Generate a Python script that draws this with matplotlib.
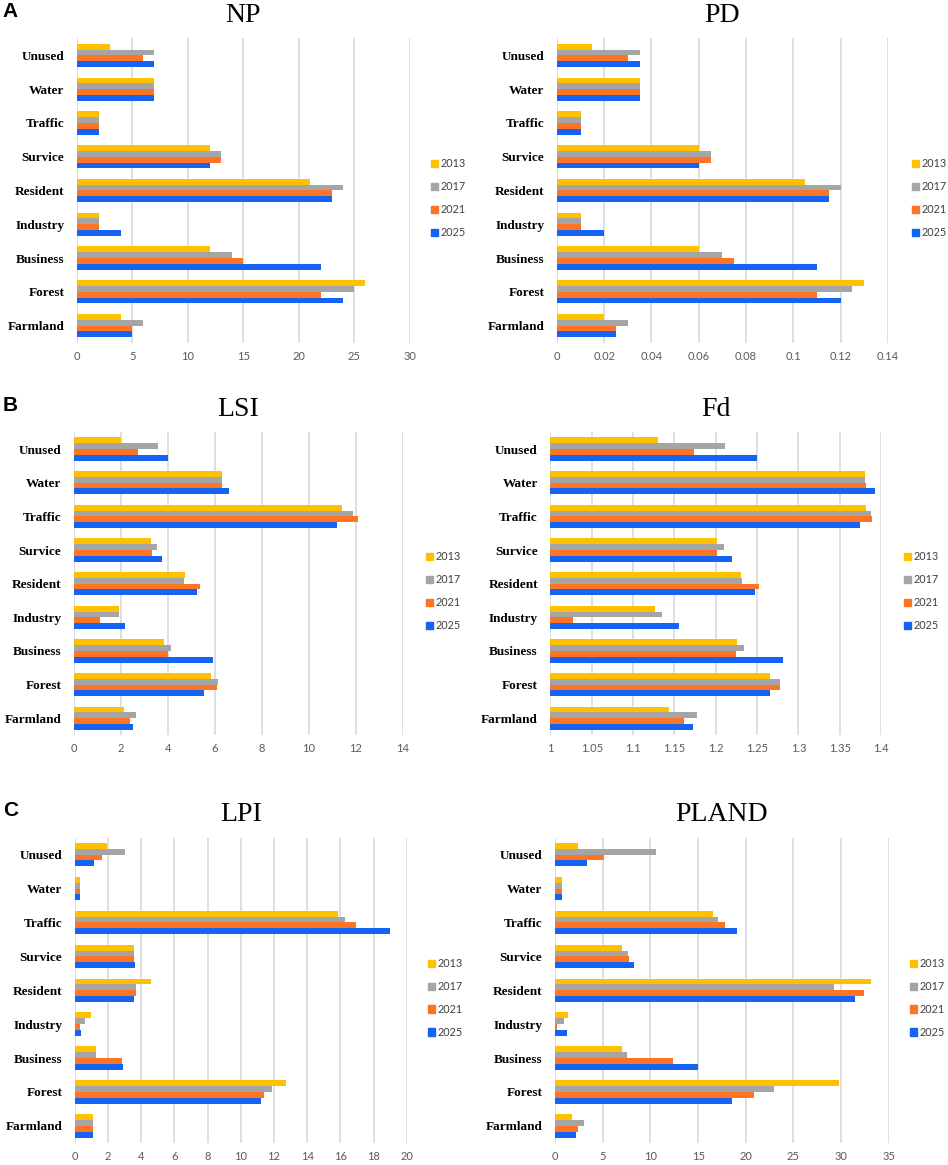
import matplotlib
matplotlib.use("Agg")
import matplotlib.pyplot as plt
from matplotlib.patches import Patch
import numpy as np

categories = ["Farmland", "Forest", "Business", "Industry", "Resident",
              "Survice", "Traffic", "Water", "Unused"]
years = ["2013", "2017", "2021", "2025"]
colors = ["#FFC000", "#A5A5A5", "#FF7424", "#1463F3"]

# values per year, listed Farmland -> Unused
np_2013 = [4, 26, 12, 2, 21, 12, 2, 7, 3]
np_2017 = [6, 25, 14, 2, 24, 13, 2, 7, 7]
np_2021 = [5, 22, 15, 2, 23, 13, 2, 7, 6]
np_2025 = [5, 24, 22, 4, 23, 12, 2, 7, 7]

pd_2013 = [0.02, 0.13, 0.06, 0.01, 0.105, 0.06, 0.01, 0.035, 0.015]
pd_2017 = [0.03, 0.125, 0.07, 0.01, 0.12, 0.065, 0.01, 0.035, 0.035]
pd_2021 = [0.025, 0.11, 0.075, 0.01, 0.115, 0.065, 0.01, 0.035, 0.03]
pd_2025 = [0.025, 0.12, 0.11, 0.02, 0.115, 0.06, 0.01, 0.035, 0.035]

lsi_2013 = [2.11, 5.83, 3.83, 1.90, 4.71, 3.30, 11.39, 6.28, 2.01]
lsi_2017 = [2.65, 6.14, 4.11, 1.91, 4.68, 3.52, 11.87, 6.28, 3.56]
lsi_2021 = [2.40, 6.07, 4.01, 1.12, 5.38, 3.33, 12.07, 6.28, 2.74]
lsi_2025 = [2.51, 5.52, 5.90, 2.18, 5.23, 3.76, 11.20, 6.61, 4.01]

fd_2013 = [1.143, 1.265, 1.226, 1.126, 1.231, 1.202, 1.382, 1.381, 1.130]
fd_2017 = [1.177, 1.278, 1.234, 1.135, 1.232, 1.210, 1.388, 1.381, 1.211]
fd_2021 = [1.162, 1.278, 1.224, 1.027, 1.252, 1.202, 1.389, 1.382, 1.174]
fd_2025 = [1.172, 1.265, 1.281, 1.155, 1.247, 1.220, 1.375, 1.392, 1.250]

lpi_2013 = [1.11, 12.72, 1.27, 0.96, 4.56, 3.58, 15.84, 0.28, 1.93]
lpi_2017 = [1.11, 11.88, 1.27, 0.58, 3.68, 3.58, 16.28, 0.28, 3.05]
lpi_2021 = [1.11, 11.42, 2.81, 0.28, 3.68, 3.58, 16.94, 0.28, 1.61]
lpi_2025 = [1.12, 11.22, 2.89, 0.38, 3.56, 3.64, 19.01, 0.28, 1.17]

pland_2013 = [1.82, 29.77, 7.02, 1.36, 33.09, 6.99, 16.56, 0.73, 2.41]
pland_2017 = [3.04, 22.92, 7.58, 0.94, 29.25, 7.62, 17.09, 0.73, 10.55]
pland_2021 = [2.45, 20.89, 12.33, 0.24, 32.36, 7.76, 17.86, 0.73, 5.14]
pland_2025 = [2.17, 18.59, 15.03, 1.22, 31.41, 8.25, 19.04, 0.75, 3.35]

panels = [
    ("NP", [np_2013, np_2017, np_2021, np_2025], np.arange(0, 31, 5), 0, None,
     [0.081, 0.706, 0.351, 0.261], 1.07),
    ("PD", [pd_2013, pd_2017, pd_2021, pd_2025], np.arange(0, 0.141, 0.02), 0,
     ["0", "0.02", "0.04", "0.06", "0.08", "0.1", "0.12", "0.14"],
     [0.5875, 0.706, 0.349, 0.261], 1.08),
    ("LSI", [lsi_2013, lsi_2017, lsi_2021, lsi_2025], np.arange(0, 15, 2), 0, None,
     [0.078, 0.369, 0.347, 0.260], 1.076),
    ("Fd", [fd_2013, fd_2017, fd_2021, fd_2025], np.arange(1, 1.401, 0.05), 1,
     ["1", "1.05", "1.1", "1.15", "1.2", "1.25", "1.3", "1.35", "1.4"],
     [0.5805, 0.369, 0.349, 0.260], 1.075),
    ("LPI", [lpi_2013, lpi_2017, lpi_2021, lpi_2025], np.arange(0, 21, 2), 0, None,
     [0.079, 0.019, 0.350, 0.262], 1.07),
    ("PLAND", [pland_2013, pland_2017, pland_2021, pland_2025], np.arange(0, 36, 5), 0, None,
     [0.5855, 0.019, 0.352, 0.262], 1.07),
]

fig = plt.figure(figsize=(9.48, 11.65), dpi=100)
y = np.arange(len(categories))
h = 0.172

for title, series, ticks, x0, ticklabels, rect, legx in panels:
    ax = fig.add_axes(rect)
    for i, vals in enumerate(series):
        off = (1.5 - i) * h
        ax.barh(y + off, np.array(vals) - x0, height=h, left=x0, color=colors[i])
    ax.set_xlim(ticks[0], ticks[-1])
    ax.set_ylim(-0.5, len(categories) - 0.5)
    ax.set_xticks(ticks)
    if ticklabels:
        ax.set_xticklabels(ticklabels)
    ax.set_yticks(y)
    ax.set_yticklabels(categories, family="Liberation Serif", fontweight="bold",
                       fontsize=9.5)
    for lab in ax.get_xticklabels():
        lab.set_family("Lato")
        lab.set_fontsize(8)
        lab.set_color("#595959")
    ax.tick_params(axis="both", length=0)
    ax.tick_params(axis="y", pad=9)
    ax.tick_params(axis="x", pad=6)
    for s in ax.spines.values():
        s.set_visible(False)
    ax.grid(axis="x", color="#D9D9D9", linewidth=1.2)
    ax.set_axisbelow(True)
    ax.set_title(title, family="Liberation Serif", fontsize=20, pad=12)
    handles = [Patch(color=c, label=yr) for c, yr in zip(colors, years)]
    leg = ax.legend(handles=handles, loc="center left", bbox_to_anchor=(legx - 0.02, 0.475),
                    frameon=False, fontsize=7.8, handlelength=0.65, handleheight=0.65,
                    handletextpad=0.25, labelspacing=1.1, borderaxespad=0)
    for t in leg.get_texts():
        t.set_family("Lato")
        t.set_color("#404040")

fig.text(0.003, 0.990, "A", family="Liberation Sans", fontweight="bold", fontsize=15, va="center")
fig.text(0.003, 0.652, "B", family="Liberation Sans", fontweight="bold", fontsize=15, va="center")
fig.text(0.003, 0.304, "C", family="Liberation Sans", fontweight="bold", fontsize=15, va="center")

fig.savefig("out.png", dpi=100)
